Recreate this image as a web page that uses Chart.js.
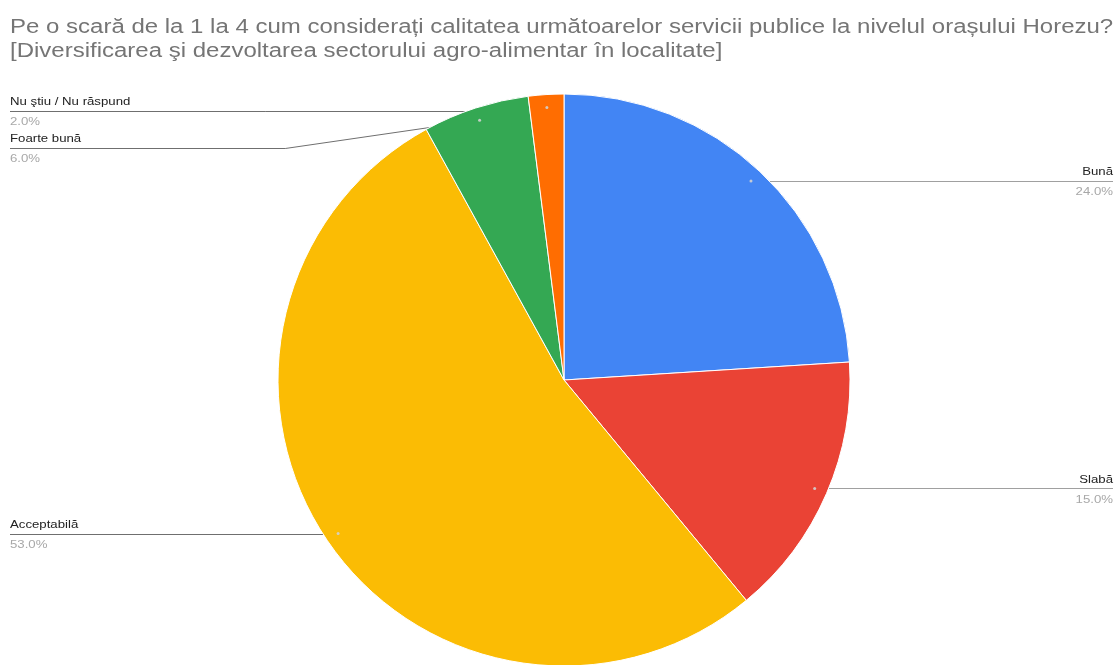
<!DOCTYPE html>
<html>
<head>
<meta charset="utf-8">
<script src="https://cdn.jsdelivr.net/npm/chart.js@4.4.1/dist/chart.umd.min.js"></script>
<style>
  html, body { margin: 0; padding: 0; background: #fff; overflow: hidden; }
  #wrap { width: 1118px; height: 665px; position: relative; }
</style>
</head>
<body>
<div id="wrap"><canvas id="c" width="1118" height="665"></canvas></div>
<script>
const titleLines = [
  'Pe o scară de la 1 la 4 cum considerați calitatea următoarelor servicii publice la nivelul orașului Horezu?',
  '[Diversificarea şi dezvoltarea sectorului agro-alimentar în localitate]'
];
const categories = ['Bună', 'Slabă', 'Acceptabilă', 'Foarte bună', 'Nu ştiu / Nu răspund'];
const values = [24, 15, 53, 6, 2];
const colors = ['#4285f4', '#ea4335', '#fbbc04', '#34a853', '#ff6d01'];

const FONT = '"Liberation Sans", Arial, sans-serif';
const STRETCH = 1.2;

function stretchedText(ctx, text, x, y, align) {
  ctx.save();
  ctx.translate(x, y);
  ctx.scale(STRETCH, 1);
  ctx.textAlign = align;
  ctx.fillText(text, 0, 0);
  ctx.restore();
}

const titlePlugin = {
  id: 'titleDraw',
  afterDraw(chart) {
    const ctx = chart.ctx;
    ctx.save();
    ctx.fillStyle = '#757575';
    ctx.font = '20px ' + FONT;
    ctx.textBaseline = 'alphabetic';
    stretchedText(ctx, titleLines[0], 10, 33, 'left');
    stretchedText(ctx, titleLines[1], 10, 57, 'left');
    ctx.restore();
  }
};

function computeLabels(chart) {
  const meta = chart.getDatasetMeta(0);
  const total = values.reduce((a, b) => a + b, 0);
  const items = meta.data.map((arc, i) => {
    const p = arc.getProps(['x', 'y', 'startAngle', 'endAngle', 'outerRadius'], true);
    const mid = (p.startAngle + p.endAngle) / 2;
    const r = p.outerRadius * 0.955;
    const ax = p.x + Math.cos(mid) * r;
    const ay = p.y + Math.sin(mid) * r;
    return {
      i, ax, ay, right: Math.cos(mid) > 0,
      name: categories[i],
      pct: (values[i] / total * 100).toFixed(1) + '%'
    };
  });
  const top = chart.chartArea.top + 16;
  ['L', 'R'].forEach(side => {
    const group = items.filter(it => (side === 'R') === it.right).sort((a, b) => a.ay - b.ay);
    let prev = -Infinity;
    group.forEach(it => {
      it.ly = Math.max(it.ay, prev + 37, top);
      prev = it.ly;
    });
  });
  return items;
}

const labelPlugin = {
  id: 'sideLabels',
  beforeDatasetsDraw(chart) {
    const ctx = chart.ctx;
    const items = computeLabels(chart);
    chart.$labels = items;
    ctx.save();
    ctx.lineWidth = 1;
    items.forEach(it => {
      ctx.strokeStyle = it.right ? '#a0a0a0' : '#6f6f6f';
      const edgeX = it.right ? chart.width - 5 : 10;
      const dy = Math.abs(it.ly - it.ay);
      const yy = Math.round(it.ly) + 0.5;
      ctx.beginPath();
      ctx.moveTo(edgeX, yy);
      if (dy < 1) {
        ctx.lineTo(it.ax, yy);
      } else {
        const elbow = it.right ? it.ax + 7 * dy : it.ax - 7 * dy;
        ctx.lineTo(elbow, yy);
        ctx.lineTo(it.ax, it.ay);
      }
      ctx.stroke();
    });
    ctx.restore();
  },
  afterDatasetsDraw(chart) {
    const ctx = chart.ctx;
    const items = chart.$labels || computeLabels(chart);
    ctx.save();
    items.forEach(it => {
      ctx.fillStyle = 'rgba(210,210,210,0.9)';
      ctx.beginPath();
      ctx.arc(it.ax, it.ay, 1.5, 0, Math.PI * 2);
      ctx.fill();
      const tx = it.right ? chart.width - 5 : 10;
      const align = it.right ? 'right' : 'left';
      ctx.textBaseline = 'middle';
      ctx.font = '11px ' + FONT;
      ctx.fillStyle = '#222222';
      stretchedText(ctx, it.name, tx, it.ly - 9, align);
      ctx.fillStyle = '#a8a8a8';
      stretchedText(ctx, it.pct, tx, it.ly + 11, align);
    });
    ctx.restore();
  }
};

new Chart(document.getElementById('c'), {
  type: 'pie',
  data: {
    labels: categories,
    datasets: [{
      data: values,
      backgroundColor: colors,
      borderColor: '#ffffff',
      borderWidth: 1,
      clip: false
    }]
  },
  options: {
    responsive: false,
    animation: false,
    radius: 286,
    layout: { padding: { left: 278, right: 268, top: 95, bottom: 0 } },
    plugins: {
      legend: { display: false },
      tooltip: { enabled: false },
      title: { display: false }
    }
  },
  plugins: [titlePlugin, labelPlugin]
});
</script>
</body>
</html>
